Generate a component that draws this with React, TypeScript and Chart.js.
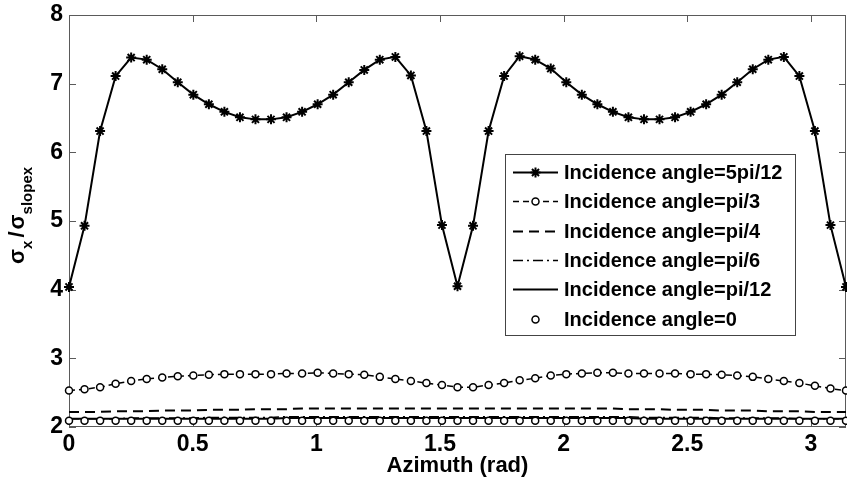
import React, { useEffect, useRef } from "react";
import { Chart, registerables } from "chart.js";
import { drawPoint } from "chart.js/helpers";

Chart.register(...registerables);

const FONT = "'Liberation Sans', Arial, Helvetica, sans-serif";

// Azimuth samples (rad)
const azimuth = [
  0, 0.0628, 0.1257, 0.1885, 0.2513, 0.3142, 0.377, 0.4398, 0.5027, 0.5655,
  0.6283, 0.6912, 0.754, 0.8168, 0.8796, 0.9425, 1.0053, 1.0681, 1.131, 1.1938,
  1.2566, 1.3195, 1.3823, 1.4451, 1.508, 1.5708, 1.6336, 1.6965, 1.7593, 1.8221,
  1.885, 1.9478, 2.0106, 2.0735, 2.1363, 2.1991, 2.2619, 2.3248, 2.3876, 2.4504,
  2.5133, 2.5761, 2.6389, 2.7018, 2.7646, 2.8274, 2.8903, 2.9531, 3.0159, 3.0788,
  3.1416,
];

const inc5pi12 = [
  4.04, 4.93, 6.31, 7.11, 7.38, 7.35, 7.21, 7.02, 6.84, 6.7,
  6.59, 6.51, 6.48, 6.48, 6.51, 6.59, 6.7, 6.84, 7.02, 7.2,
  7.35, 7.39, 7.12, 6.31, 4.94, 4.05, 4.93, 6.31, 7.11, 7.4,
  7.35, 7.22, 7.02, 6.84, 6.7, 6.59, 6.51, 6.48, 6.48, 6.51,
  6.59, 6.7, 6.84, 7.02, 7.21, 7.35, 7.39, 7.11, 6.31, 4.94,
  4.04,
];

const incPi3 = [
  2.53, 2.55, 2.58, 2.63, 2.67, 2.7, 2.72, 2.74, 2.75, 2.76,
  2.77, 2.77, 2.77, 2.77, 2.78, 2.78, 2.79, 2.78, 2.77, 2.76,
  2.73, 2.7, 2.67, 2.64, 2.61, 2.58, 2.58, 2.61, 2.64, 2.68,
  2.71, 2.75, 2.77, 2.78, 2.79, 2.79, 2.78, 2.78, 2.78, 2.78,
  2.77, 2.77, 2.76, 2.75, 2.73, 2.7, 2.67, 2.64, 2.6, 2.56,
  2.53,
];

const incPi4 = [
  2.22, 2.22, 2.22, 2.23, 2.23, 2.23, 2.24, 2.24, 2.24, 2.25,
  2.25, 2.25, 2.26, 2.26, 2.26, 2.27, 2.27, 2.27, 2.27, 2.27,
  2.27, 2.27, 2.27, 2.27, 2.27, 2.27, 2.27, 2.27, 2.27, 2.27,
  2.27, 2.27, 2.27, 2.27, 2.27, 2.27, 2.26, 2.26, 2.26, 2.25,
  2.25, 2.25, 2.24, 2.24, 2.24, 2.23, 2.23, 2.23, 2.22, 2.22,
  2.22,
];

const incPi6 = [
  2.12, 2.12, 2.12, 2.12, 2.13, 2.13, 2.13, 2.13, 2.13, 2.14,
  2.14, 2.14, 2.14, 2.14, 2.15, 2.15, 2.15, 2.15, 2.15, 2.15,
  2.15, 2.15, 2.15, 2.15, 2.15, 2.15, 2.15, 2.15, 2.15, 2.15,
  2.15, 2.15, 2.15, 2.15, 2.15, 2.15, 2.15, 2.14, 2.14, 2.14,
  2.14, 2.14, 2.13, 2.13, 2.13, 2.13, 2.13, 2.12, 2.12, 2.12,
  2.12,
];

const incPi12 = [
  2.12, 2.12, 2.12, 2.12, 2.12, 2.12, 2.12, 2.12, 2.12, 2.12,
  2.12, 2.12, 2.12, 2.12, 2.13, 2.13, 2.13, 2.13, 2.13, 2.13,
  2.13, 2.13, 2.13, 2.13, 2.13, 2.13, 2.13, 2.13, 2.13, 2.13,
  2.13, 2.13, 2.13, 2.13, 2.13, 2.13, 2.13, 2.12, 2.12, 2.12,
  2.12, 2.12, 2.12, 2.12, 2.12, 2.12, 2.12, 2.12, 2.12, 2.12,
  2.12,
];

const inc0 = [
  2.09, 2.09, 2.09, 2.09, 2.09, 2.09, 2.09, 2.09, 2.09, 2.09,
  2.09, 2.09, 2.09, 2.09, 2.09, 2.09, 2.09, 2.09, 2.09, 2.09,
  2.09, 2.09, 2.09, 2.09, 2.09, 2.09, 2.09, 2.09, 2.09, 2.09,
  2.09, 2.09, 2.09, 2.09, 2.09, 2.09, 2.09, 2.09, 2.09, 2.09,
  2.09, 2.09, 2.09, 2.09, 2.09, 2.09, 2.09, 2.09, 2.09, 2.09,
  2.09,
];

const seriesLabels = [
  "Incidence angle=5pi/12",
  "Incidence angle=pi/3",
  "Incidence angle=pi/4",
  "Incidence angle=pi/6",
  "Incidence angle=pi/12",
  "Incidence angle=0",
];

const xTickValues = [0, 0.5, 1, 1.5, 2, 2.5, 3];
const yTickValues = [2, 3, 4, 5, 6, 7, 8];
const xTitle = "Azimuth (rad)";
// y title pieces: [text, isSubscript, gapAfter]
const yTitleParts: [string, boolean, number][] = [
  ["σ", false, 0],
  ["x", true, 3],
  ["/", false, 2],
  ["σ", false, 0],
  ["slopex", true, 0],
];

const toXY = (ys: number[]) => ys.map((y, i) => ({ x: azimuth[i], y }));

const framePlugin = {
  id: "frame",
  beforeDatasetsDraw(chart: any) {
    const { ctx, chartArea: a, scales } = chart;
    ctx.save();
    ctx.strokeStyle = "#5a5a5a";
    ctx.lineWidth = 1;
    ctx.strokeRect(a.left + 0.5, a.top + 0.5, a.right - a.left - 1, a.bottom - a.top - 1);
    const tl = 7;
    ctx.beginPath();
    for (const v of xTickValues) {
      const px = Math.round(scales.x.getPixelForValue(v)) + 0.5;
      ctx.moveTo(px, a.bottom);
      ctx.lineTo(px, a.bottom - tl);
      ctx.moveTo(px, a.top);
      ctx.lineTo(px, a.top + tl);
    }
    for (const v of yTickValues) {
      const py = Math.round(scales.y.getPixelForValue(v)) + 0.5;
      ctx.moveTo(a.left, py);
      ctx.lineTo(a.left + tl, py);
      ctx.moveTo(a.right, py);
      ctx.lineTo(a.right - tl, py);
    }
    ctx.stroke();
    ctx.restore();
  },
};

const yTitlePlugin = {
  id: "ytitle",
  afterDraw(chart: any) {
    const { ctx } = chart;
    ctx.save();
    ctx.translate(24, 264);
    ctx.rotate(-Math.PI / 2);
    ctx.fillStyle = "#000";
    ctx.textAlign = "left";
    ctx.textBaseline = "alphabetic";
    let x = 0;
    for (const [t, sub, gap] of yTitleParts) {
      ctx.font = sub ? `bold 15px ${FONT}` : `bold 22px ${FONT}`;
      ctx.fillText(t, x, sub ? 8 : 0);
      x += ctx.measureText(t).width + gap;
    }
    ctx.restore();
  },
};

const legendPlugin = {
  id: "customLegend",
  afterDraw(chart: any) {
    const { ctx } = chart;
    const bx = 505, by = 154, bw = 290, bh = 181;
    ctx.save();
    ctx.fillStyle = "#fff";
    ctx.fillRect(bx, by, bw, bh);
    ctx.strokeStyle = "#444";
    ctx.lineWidth = 1;
    ctx.strokeRect(bx + 0.5, by + 0.5, bw, bh);
    const rowH = 29.3;
    chart.data.datasets.forEach((ds: any, i: number) => {
      const cy = Math.round(by + 18 + i * rowH) + 0.5;
      const x0 = 513, x1 = 558;
      if (ds.showLine !== false) {
        ctx.save();
        ctx.strokeStyle = "#000";
        ctx.lineWidth = ds.borderWidth;
        ctx.setLineDash(ds.borderDash || []);
        ctx.beginPath();
        ctx.moveTo(x0, cy);
        ctx.lineTo(x1, cy);
        ctx.stroke();
        ctx.restore();
      }
      if (ds.pointRadius > 0) {
        ctx.save();
        ctx.fillStyle = ds.pointBackgroundColor || "#000";
        ctx.strokeStyle = ds.pointBorderColor || "#000";
        ctx.lineWidth = ds.pointBorderWidth;
        drawPoint(ctx, { pointStyle: ds.pointStyle, radius: ds.pointRadius, rotation: 0, borderWidth: ds.pointBorderWidth }, (x0 + x1) / 2, cy);
        ctx.restore();
      }
      ctx.fillStyle = "#000";
      ctx.font = `bold 20px ${FONT}`;
      ctx.textAlign = "left";
      ctx.textBaseline = "middle";
      ctx.fillText(ds.label, 564, cy + 1);
    });
    ctx.restore();
  },
};

const zeroPad = (s: any) => {
  s.paddingLeft = 0;
  s.paddingRight = 0;
  s.paddingTop = 0;
  s.paddingBottom = 0;
};

export default function App() {
  const ref = useRef<HTMLCanvasElement | null>(null);
  useEffect(() => {
    if (!ref.current) return;
    const tickFont = { family: FONT, size: 23, weight: "bold" as const };
    const chart = new Chart(ref.current, {
      type: "line",
      data: {
        datasets: [
          {
            label: seriesLabels[0],
            data: toXY(inc5pi12),
            borderColor: "#000",
            backgroundColor: "#000",
            borderWidth: 2,
            pointStyle: "star",
            pointRadius: 5,
            pointBorderWidth: 2,
            pointBackgroundColor: "#000",
            pointBorderColor: "#000",
            order: 1,
          },
          {
            label: seriesLabels[1],
            data: toXY(incPi3),
            borderColor: "#000",
            borderWidth: 1.5,
            borderDash: [6, 4],
            pointStyle: "circle",
            pointRadius: 3.5,
            pointBorderWidth: 1.5,
            pointBackgroundColor: "#fff",
            pointBorderColor: "#000",
            order: 2,
          },
          {
            label: seriesLabels[2],
            data: toXY(incPi4),
            borderColor: "#000",
            borderWidth: 2,
            borderDash: [10, 6],
            pointRadius: 0,
            order: 3,
          },
          {
            label: seriesLabels[3],
            data: toXY(incPi6),
            borderColor: "#000",
            borderWidth: 1.5,
            borderDash: [10, 4, 2, 4],
            pointRadius: 0,
            order: 4,
          },
          {
            label: seriesLabels[4],
            data: toXY(incPi12),
            borderColor: "#000",
            borderWidth: 2,
            pointRadius: 0,
            order: 5,
          },
          {
            label: seriesLabels[5],
            data: toXY(inc0),
            showLine: false,
            borderColor: "#000",
            borderWidth: 1.5,
            pointStyle: "circle",
            pointRadius: 3.5,
            pointBorderWidth: 1.5,
            pointBackgroundColor: "#fff",
            pointBorderColor: "#000",
            order: 0,
          },
        ] as any,
      },
      options: {
        responsive: false,
        animation: false,
        devicePixelRatio: 1,
        clip: false as any,
        layout: { autoPadding: false, padding: { top: 15, right: 1, left: 0, bottom: 0 } },
        plugins: { legend: { display: false }, tooltip: { enabled: false }, title: { display: false } },
        elements: { line: { tension: 0 } },
        scales: {
          x: {
            type: "linear",
            min: azimuth[0],
            max: azimuth[azimuth.length - 1],
            grid: { display: false, drawTicks: false },
            border: { display: false },
            afterBuildTicks: (s: any) => {
              s.ticks = xTickValues.map((v) => ({ value: v }));
            },
            ticks: {
              font: tickFont,
              color: "#000",
              padding: 4,
              maxRotation: 0,
              autoSkip: false,
              callback: (v: any) => String(v),
            },
            title: {
              display: true,
              text: xTitle,
              color: "#000",
              font: { family: FONT, size: 22, weight: "bold" },
              padding: { top: 0, bottom: 10 },
            },
            afterFit: (s: any) => {
              s.height = 62;
              zeroPad(s);
            },
          },
          y: {
            type: "linear",
            min: yTickValues[0],
            max: yTickValues[yTickValues.length - 1],
            grid: { display: false, drawTicks: false },
            border: { display: false },
            afterBuildTicks: (s: any) => {
              s.ticks = yTickValues.map((v) => ({ value: v }));
            },
            ticks: {
              font: tickFont,
              color: "#000",
              padding: 6,
              autoSkip: false,
              callback: (v: any) => String(v),
            },
            afterFit: (s: any) => {
              s.width = 69;
              zeroPad(s);
            },
          },
        },
      } as any,
      plugins: [framePlugin, yTitlePlugin, legendPlugin],
    });
    return () => chart.destroy();
  }, []);

  return (
    <div style={{ position: "absolute", left: 0, top: 0, width: 847, height: 489, background: "#fff" }}>
      <canvas ref={ref} width={847} height={489} style={{ display: "block" }} />
    </div>
  );
}
